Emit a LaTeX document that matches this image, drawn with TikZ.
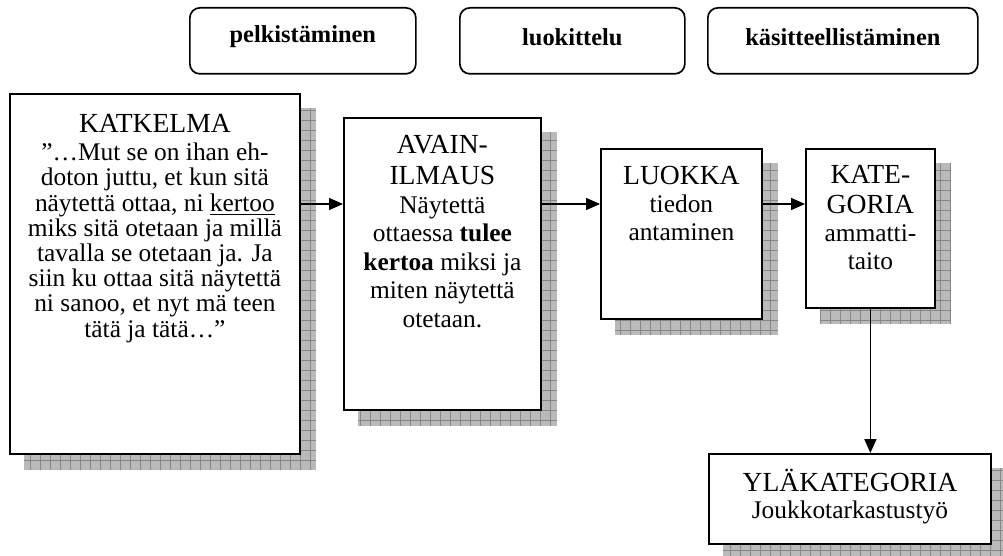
\documentclass[tikz,border=0pt]{standalone}
\usepackage{fontspec}
\setmainfont{Liberation Serif}
\usetikzlibrary{arrows.meta, positioning, backgrounds}

\newcommand{\hd}[1]{{\fontsize{13.8}{15}\selectfont #1}}

\begin{document}
\begin{tikzpicture}[x=0.5pt,y=-0.5pt]

\tikzset{box/.style = {draw, fill=white, line width=0.9pt, inner sep=0pt, anchor=north west}}
\tikzset{phase/.style = {draw, rounded corners=5pt, line width=0.85pt, inner sep=0pt, anchor=north west}}
\tikzset{lbl/.style = {inner sep=0pt, align=center, font=\fontsize{12.7}{#1}\selectfont}, lbl/.default=14}
\tikzset{flow/.style = {-{Triangle[length=7pt,width=6pt]}, line width=0.8pt}}
\tikzset{shade/.style = {fill=black!27}}
\tikzset{shadegrid/.style = {draw=black!47, line width=0.4pt, step=5pt}}

\useasboundingbox (0,0) rectangle (1003,556);

% phases
\node[phase, minimum width=113pt, minimum height=33pt] (pelk) at (189,7) {};
\node[phase, minimum width=112.5pt, minimum height=33pt] (luok) at (459,7) {};
\node[phase, minimum width=135pt, minimum height=33pt] (kasit) at (707,7) {};
\node[font=\fontsize{12.2}{14}\selectfont\bfseries] (pelkt) at ([yshift=2pt]pelk.center) {pelkistäminen};
\node[font=\fontsize{12.2}{14}\selectfont\bfseries] (luokt) at ([yshift=2pt]luok.center) {luokittelu};
\node[font=\fontsize{12.2}{14}\selectfont\bfseries] (kasitt) at ([yshift=2pt]kasit.center) {käsitteellistäminen};

% boxes
\node[box, minimum width=145pt, minimum height=180pt] (katk) at (9,93) {};
\node[box, minimum width=98.5pt, minimum height=146pt] (avain) at (343,117) {};
\node[box, minimum width=80.5pt, minimum height=85pt] (luokka) at (600,148) {};
\node[box, minimum width=64.5pt, minimum height=79.5pt] (kate) at (805,148) {};
\node[box, minimum width=141pt, minimum height=45pt] (yla) at (708,453) {};

% texts
\node[lbl=12.6, below=10.5pt of katk.north] (katkt) {\hd{KATKELMA}\\[1.4pt]
  ”…Mut se on ihan eh-\\ doton juttu, et kun sitä\\
  näytettä ottaa, ni \underline{kertoo}\\ miks sitä otetaan ja millä\\
  tavalla se otetaan ja. Ja\\ siin ku ottaa sitä näytettä\\
  ni sanoo, et nyt mä teen\\ tätä ja tätä…”};
\node[lbl=14.2, below=9pt of avain.north] (avaint) {\hd{AVAIN-}\\[1pt] \hd{ILMAUS}\\[0.5pt]
  Näytettä\\ ottaessa \textbf{tulee}\\ \textbf{kertoa} miksi ja\\ miten näytettä\\ otetaan.};
\node[lbl, below=9pt of luokka.north] (luokkat) {\hd{LUOKKA}\\ tiedon\\ antaminen};
\node[lbl, below=8.5pt of kate.north] (katet) {\hd{KATE-}\\[1pt] \hd{GORIA}\\ ammatti-\\ taito};
\node[lbl=13.4, below=8pt of yla.north] (ylat) {\hd{YLÄKATEGORIA}\\ Joukkotarkastustyö};

% shadows
\begin{pgfonlayer}{background}
\foreach \b in {katk, avain, luokka, kate, yla} {
  \fill[shade] ([shift={(15,15)}]\b.north west) rectangle ([shift={(15,15)}]\b.south east);
  \draw[shadegrid] ([shift={(15,15)}]\b.north west) grid ([shift={(15,15)}]\b.south east);
}
\end{pgfonlayer}

% arrows
\coordinate (row) at (0,204);
\draw[flow] (katk.east |- row) -- (avain.west |- row);
\draw[flow] (avain.east |- row) -- (luokka.west |- row);
\draw[flow] (luokka.east |- row) -- (kate.west |- row);
\draw[flow] (kate.south) -- (kate.south |- yla.north);
\end{tikzpicture}
\end{document}
